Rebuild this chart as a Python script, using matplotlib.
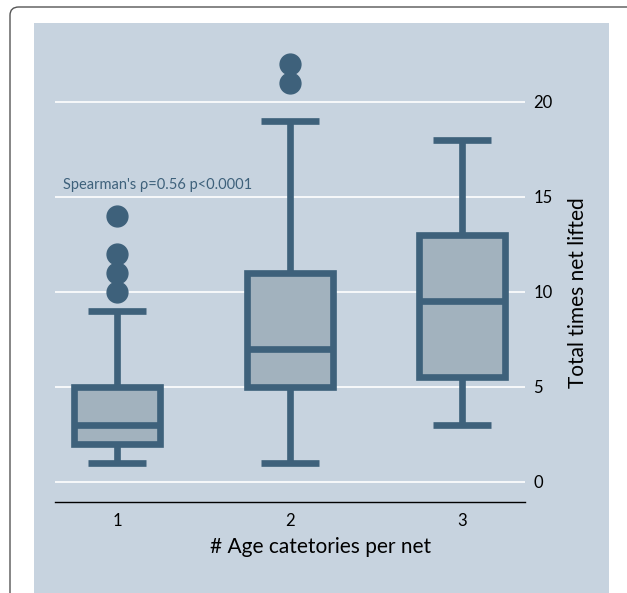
import matplotlib
matplotlib.use('Agg')
import matplotlib.pyplot as plt
from matplotlib.patches import FancyBboxPatch, Rectangle

plt.rcParams['font.family'] = ['Lato', 'DejaVu Sans']

# box plot summary
groups = [1, 2, 3]
q1 = [2, 5, 5.5]
med = [3, 7, 9.5]
q3 = [5, 11, 13]
whislo = [1, 1, 3]
whishi = [9, 19, 18]
fliers = [[10, 11, 12, 14], [21, 22], []]
yticks = [0, 5, 10, 15, 20]

edge = '#3e617b'
fill = '#a2b2be'
bg = '#c7d3df'

W, H = 627, 593
fig = plt.figure(figsize=(W / 100, H / 100), dpi=100)

# outer rounded frame and the light blue graph region
frame = FancyBboxPatch((10 / W, -30 / H), 640 / W, (H - 7 + 30) / H,
                       boxstyle='round,pad=0,rounding_size=0.014',
                       transform=fig.transFigure, facecolor='white',
                       edgecolor='#555555', linewidth=1.0, zorder=-2)
fig.patches.append(frame)
region = Rectangle((34 / W, 0), (609 - 34) / W, (H - 23) / H,
                   transform=fig.transFigure, facecolor=bg, edgecolor='none', zorder=-1)
fig.patches.append(region)

ax = fig.add_axes([54.8 / W, (H - 501.7) / H, 470.4 / W, (501.7 - 23) / H])
ax.set_facecolor('none')

stats = []
for i in range(len(groups)):
    stats.append(dict(med=med[i], q1=q1[i], q3=q3[i], whislo=whislo[i],
                      whishi=whishi[i], fliers=fliers[i], label=str(groups[i])))

ax.bxp(stats, positions=groups, widths=0.5, capwidths=0.335, patch_artist=True,
       boxprops=dict(facecolor=fill, edgecolor=edge, linewidth=4.8),
       whiskerprops=dict(color=edge, linewidth=4.8, solid_capstyle='butt'),
       capprops=dict(color=edge, linewidth=4.8, solid_capstyle='butt'),
       medianprops=dict(color=edge, linewidth=4.8, solid_capstyle='butt'),
       flierprops=dict(marker='o', markersize=15, markerfacecolor=edge,
                       markeredgecolor=edge, linestyle='none'),
       zorder=3)

ax.set_xlim(0.637, 3.367)
ax.set_ylim(-1.05, 24.14)
ax.set_yticks(yticks)
ax.yaxis.tick_right()
ax.yaxis.grid(True, color='white', linewidth=1.2)
ax.set_axisbelow(True)
for s in ['top', 'left', 'right']:
    ax.spines[s].set_visible(False)
ax.spines['bottom'].set_color('black')
ax.spines['bottom'].set_linewidth(1.0)
ax.tick_params(axis='y', length=0, pad=6, labelsize=12, labelcolor='black')
ax.tick_params(axis='x', length=0, pad=8, labelsize=12, labelcolor='black')

ax.text(0.685, 15.4, "Spearman's ρ=0.56 p<0.0001", fontsize=10.5, color=edge,
        va='baseline', ha='left')

fig.text(578.3 / W, 1 - 292.5 / H, 'Total times net lifted', rotation=90,
         ha='center', va='center', fontsize=15)
fig.text(321 / W, 1 - 546.7 / H, '# Age catetories per net',
         ha='center', va='center', fontsize=15)

fig.savefig('out.png', dpi=100)
